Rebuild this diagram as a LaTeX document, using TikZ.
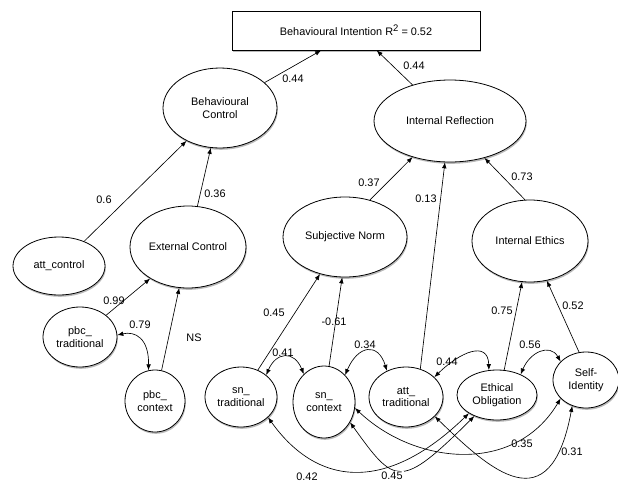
\documentclass[tikz,border=0pt]{standalone}
\usepackage{fontspec}
\setmainfont{Liberation Sans}
\usetikzlibrary{shapes.geometric,shadows,arrows.meta}
\tikzset{
  lat/.style={ellipse,draw,fill=white,line width=0.8pt,inner sep=0pt,align=center,
    drop shadow={shadow xshift=0.8pt,shadow yshift=-1.8pt,fill=black!55}},
  boxnode/.style={rectangle,draw,fill=white,line width=0.8pt,inner sep=0pt,
    drop shadow={shadow xshift=1pt,shadow yshift=-1.5pt,fill=black!55}},
  conn/.style={line width=0.65pt,-{Latex[length=6pt,width=4.6pt]}},
  dbl/.style={line width=0.65pt,{Latex[length=6pt,width=4.6pt]}-{Latex[length=6pt,width=4.6pt]}},
  lbl/.style={inner sep=0pt}
}
\begin{document}
\begin{tikzpicture}[x=1pt,y=-1pt,font=\fontsize{10.9}{12.7}\selectfont]
\useasboundingbox (0,0) rectangle (618,485);
% nodes
\node[boxnode,minimum width=248pt,minimum height=39pt] (box) at (356,30.5) {Behavioural Intention R\raisebox{0.75ex}{\fontsize{9.5}{9.5}\selectfont 2} = 0.52};
\node[lat,minimum width=114pt,minimum height=80pt] (BC) at (220,108) {Behavioural\\Control};
\node[lat,minimum width=152pt,minimum height=82pt] (IR) at (450,121) {Internal Reflection};
\node[lat,minimum width=116pt,minimum height=82pt] (EC) at (188,247) {External Control};
\node[lat,minimum width=92pt,minimum height=58pt] (attc) at (59,266) {att\_control};
\node[lat,minimum width=74pt,minimum height=60pt] (pbct) at (80,337) {pbc\_\\traditional};
\node[lat,minimum width=60pt,minimum height=62pt] (pbcc) at (155,401) {pbc\_\\context};
\node[lat,minimum width=124pt,minimum height=80pt] (SN) at (345,237) {Subjective Norm};
\node[lat,minimum width=116pt,minimum height=82pt] (IE) at (530,241) {Internal Ethics};
\node[lat,minimum width=72pt,minimum height=60pt] (sntrad) at (241,397) {sn\_\\traditional};
\node[lat,minimum width=62pt,minimum height=72pt] (snctx) at (324,402) {sn\_\\context};
\node[lat,minimum width=74pt,minimum height=60pt] (atttrad) at (406,397) {att\_\\traditional};
\node[lat,minimum width=80pt,minimum height=50pt] (EO) at (497,395) {Ethical\\Obligation};
\node[lat,minimum width=66pt,minimum height=56pt] (SI) at (586,380) {Self-\\Identity};
% straight connectors
\draw[conn] (BC) -- (box);
\draw[conn] (IR) -- (box);
\draw[conn] (attc) -- (BC);
\draw[conn] (EC) -- (BC);
\draw[conn] (pbct) -- (EC);
\draw[conn] (pbcc) -- (EC);
\draw[conn] (SN.56) -- (IR.224);
\draw[conn] (atttrad.63) -- (IR.263);
\draw[conn] (IE.97) -- (IR.313);
\draw[conn] (sntrad.58) -- (SN.236);
\draw[conn] (snctx.82) -- (SN.266);
\draw[conn] (EO.74) -- (IE.259);
\draw[conn] (SI.104) -- (IE.293);
% correlations
\draw[dbl] (pbct.3) .. controls (135,331) and (149,338) .. (pbcc.102);
\draw[dbl] (sntrad.41) .. controls (276,352) and (294,350) .. (snctx.126);
\draw[dbl] (snctx.52) .. controls (358,345) and (378,342) .. (atttrad.126);
\draw[dbl] (atttrad.35) .. controls (460,352) and (488,340) .. (EO.108);
\draw[dbl] (EO.41) .. controls (530,352) and (550,343) .. (SI.144);
\draw[dbl] (sntrad.323) .. controls (320,490) and (390,490) .. (EO.213);
\draw[dbl] (snctx.322) .. controls (395,485) and (400,490) .. (EO.223);
\draw[dbl] (snctx.349) .. controls (415,465) and (515,475) .. (SI.216);
\draw[dbl] (atttrad.326) .. controls (490,470) and (550,525) .. (SI.242);
% labels
\node[lbl] (l1) at (293,79) {0.44};
\node[lbl] (l2) at (414,66) {0.44};
\node[lbl] (l3) at (104,200) {0.6};
\node[lbl] (l4) at (215,194) {0.36};
\node[lbl] (l5) at (114,301) {0.99};
\node[lbl] (l6) at (140,325) {0.79};
\node[lbl] (l7) at (194,338) {NS};
\node[lbl] (l8) at (274,313) {0.45};
\node[lbl] (l9) at (283,353) {0.41};
\node[lbl] (l10) at (369,183) {0.37};
\node[lbl] (l11) at (426,199) {0.13};
\node[lbl] (l12) at (522,177) {0.73};
\node[lbl] (l13) at (334,322) {-0.61};
\node[lbl] (l14) at (365,345) {0.34};
\node[lbl] (l15) at (447,362) {0.44};
\node[lbl] (l16) at (502,311) {0.75};
\node[lbl] (l17) at (573,306) {0.52};
\node[lbl] (l18) at (530,345) {0.56};
\node[lbl] (l19) at (522,444) {0.35};
\node[lbl] (l20) at (572,452) {0.31};
\node[lbl] (l21) at (307,477) {0.42};
\node[lbl,fill=white,inner sep=1pt] (l22) at (392,476) {0.45};
\end{tikzpicture}
\end{document}
